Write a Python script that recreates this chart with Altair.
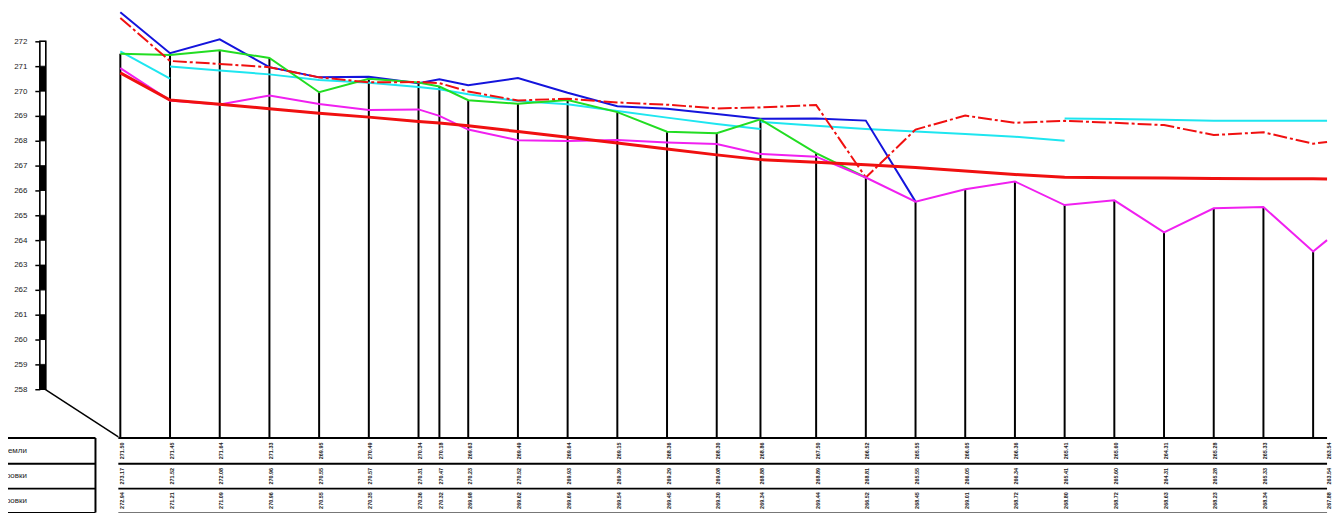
import altair as alt
import pandas as pd

# ---------------- data ----------------
stations = [0, 50, 100, 150, 200, 250, 300, 321, 350, 400, 450, 500, 550, 600, 644,
            700, 750, 800, 850, 900, 950, 1000, 1050, 1100, 1150, 1200]
END = 1214  # end of the profile

ground = [271.50, 271.45, 271.64, 271.33, 269.95, 270.49, 270.34, 270.18, 269.63, 269.49,
          269.64, 269.15, 268.36, 268.30, 268.86, 267.50, 266.52, 265.55, 266.05, 266.36,
          265.41, 265.60, 264.31, 265.28, 265.33, 263.54]
left_edge = [273.17, 271.52, 272.08, 270.96, 270.55, 270.57, 270.31, 270.47, 270.23, 270.52,
             269.93, 269.39, 269.29, 269.08, 268.88, 268.89, 268.81, 265.55, 266.05, 266.34,
             265.41, 265.60, 264.31, 265.28, 265.33, 263.54]
right_edge = [272.94, 271.21, 271.09, 270.96, 270.55, 270.35, 270.36, 270.32, 269.98, 269.62,
              269.69, 269.54, 269.45, 269.30, 269.34, 269.44, 266.52, 268.45, 269.01, 268.72,
              268.80, 268.72, 268.63, 268.23, 268.34, 267.88]
right_edge_end = 267.95

bottom_line = [270.92, 269.62, 269.46, 269.82, 269.48, 269.24, 269.26, 269.00, 268.45, 268.02,
               267.99, 268.03, 267.93, 267.87, 267.47, 267.36, 266.52, 265.55, 266.05, 266.36,
               265.41, 265.60, 264.31, 265.28, 265.33, 263.54]
bottom_line_end = 264.00

design = [270.73, 269.64, 269.47, 269.29, 269.11, 268.95, 268.77, 268.71, 268.60, 268.37,
          268.14, 267.91, 267.67, 267.43, 267.24, 267.13, 267.03, 266.92, 266.78, 266.64,
          266.53, 266.51, 266.50, 266.48, 266.47, 266.47]
design_end = 266.46

cyan_seg_c = [[0, 50],
              [50, 100, 150, 200, 250, 300, 321, 350, 400, 450, 500, 550, 600, 644],
              [644, 700, 750, 800, 850, 900, 950],
              [950, 1000, 1050, 1100, 1150, 1200, END]]
cyan_seg_v = [[271.60, 270.50],
              [270.99, 270.83, 270.67, 270.44, 270.33, 270.16, 270.07, 269.87, 269.60, 269.47,
               269.20, 268.93, 268.67, 268.47],
              [268.76, 268.60, 268.47, 268.37, 268.27, 268.16, 268.00],
              [268.89, 268.87, 268.84, 268.80, 268.80, 268.80, 268.80]]

scale_ticks = list(range(258, 273))
row_titles = ["Отметки земли", "Отметки левой бровки", "Отметки правой бровки"]

GREEN_UNTIL = 750
BLUE_UNTIL = 800

FONT = "Liberation Sans, Arial, sans-serif"

# ---------------- tables ----------------
st_df = pd.DataFrame({"c": stations, "g": ground})

green_df = pd.DataFrame({"c": stations, "v": ground})
green_df = green_df[green_df.c <= GREEN_UNTIL]
blue_df = pd.DataFrame({"c": stations, "v": left_edge})
blue_df = blue_df[blue_df.c <= BLUE_UNTIL]
red_dash_df = pd.DataFrame({"c": stations + [END], "v": right_edge + [right_edge_end]})
mag_df = pd.DataFrame({"c": stations + [END], "v": bottom_line + [bottom_line_end]})
design_df = pd.DataFrame({"c": stations + [END], "v": design + [design_end]})

cy_rows = []
for i, (cs, vs) in enumerate(zip(cyan_seg_c, cyan_seg_v)):
    for c, v in zip(cs, vs):
        cy_rows.append({"c": c, "v": v, "seg": i})
cyan_df = pd.DataFrame(cy_rows)

label_c = stations[:-1] + [END]
lab_dfs = [pd.DataFrame({"c": label_c, "t": [f"{v:.2f}" for v in vals]})
           for vals in (ground, left_edge, right_edge)]

bar_df = pd.DataFrame({"lo": scale_ticks[:-1], "hi": scale_ticks[1:],
                       "fill": ["black" if (272 - h) % 2 == 1 else "white" for h in scale_ticks[1:]]})
one = pd.DataFrame({"a": [0]})

# ---------------- scales ----------------
XS = alt.Scale(domain=[-113, 1222], nice=False, zero=False)
YS = alt.Scale(domain=[253, 273.28], nice=False, zero=False)
YAX = alt.Axis(values=scale_ticks, offset=-32, tickSize=5, tickWidth=1.5, tickColor="black",
               domain=False, grid=False, labelPadding=8, labelFontSize=8, labelFont=FONT,
               labelColor="#222", title=None, format="d", labelOverlap=False, labelFlush=False)


def X(f):
    return alt.X(f, type="quantitative", scale=XS, axis=None)


def Y(f):
    return alt.Y(f, type="quantitative", scale=YS, axis=YAX)


layers = []

# scale bar
layers.append(alt.Chart(bar_df).mark_rect(stroke="black", strokeWidth=0.8).encode(
    x=alt.value(32), x2=alt.value(38), y=Y("lo"), y2="hi",
    fill=alt.Fill("fill:N", scale=None)))
layers.append(alt.Chart(one).mark_rect(fill=None, stroke="black", strokeWidth=1.5).encode(
    x=alt.value(32), x2=alt.value(38), y=alt.Y(datum=258, scale=YS, axis=YAX), y2=alt.Y2(datum=272)))
# diagonal to the table corner
layers.append(alt.Chart(one).mark_rule(color="black", strokeWidth=1.5).encode(
    x=alt.value(37), x2=alt.value(111), y=alt.Y(datum=258, scale=YS, axis=YAX), y2=alt.value(430)))

# station verticals
layers.append(alt.Chart(st_df).mark_rule(color="black", strokeWidth=2).encode(
    x=X("c"), y=Y("g"), y2=alt.value(431)))

# profile lines
layers.append(alt.Chart(cyan_df).mark_line(color="#1ee6f0", strokeWidth=2).encode(
    x=X("c"), y=Y("v"), detail="seg:N"))
layers.append(alt.Chart(blue_df).mark_line(color="#1414dc", strokeWidth=2).encode(
    x=X("c"), y=Y("v")))
layers.append(alt.Chart(green_df).mark_line(color="#22dd22", strokeWidth=2).encode(
    x=X("c"), y=Y("v")))
layers.append(alt.Chart(red_dash_df).mark_line(color="#f01010", strokeWidth=2,
                                               strokeDash=[14, 3, 3, 3]).encode(
    x=X("c"), y=Y("v")))
layers.append(alt.Chart(mag_df).mark_line(color="#f020f0", strokeWidth=2).encode(
    x=X("c"), y=Y("v")))
layers.append(alt.Chart(design_df).mark_line(color="#f01010", strokeWidth=3).encode(
    x=X("c"), y=Y("v")))

# data table
for yy, w, col in [(431, 2, "black"), (457, 2, "black"), (482, 2, "black"), (506, 1.2, "#777")]:
    layers.append(alt.Chart(one).mark_rule(color=col, strokeWidth=w).encode(
        x=alt.X(datum=-2, scale=XS, axis=None), x2=alt.X2(datum=END), y=alt.value(yy)))
    layers.append(alt.Chart(one).mark_rule(color="black", strokeWidth=w).encode(
        x=alt.value(-2), x2=alt.value(88), y=alt.value(yy)))
layers.append(alt.Chart(one).mark_rule(color="black", strokeWidth=2).encode(
    x=alt.value(88), y=alt.value(431), y2=alt.value(506)))

for df, yy in zip(lab_dfs, [444, 469.5, 494]):
    layers.append(alt.Chart(df).mark_text(angle=270, fontSize=5.5, font=FONT, color="#222",
                                          fontWeight="bold",
                                          align="center", baseline="middle", dy=1.5).encode(
        x=X("c"), y=alt.value(yy), text="t:N"))

for t, yy in zip(row_titles, [444, 469.5, 494]):
    layers.append(alt.Chart(pd.DataFrame({"t": [t]})).mark_text(
        fontSize=8, font=FONT, color="#222", align="right", baseline="middle").encode(
        x=alt.value(19), y=alt.value(yy), text="t:N"))

chart = alt.layer(*layers).properties(
    width=1335, height=507,
    autosize=alt.AutoSizeParams(type="none"),
    padding=0,
    background="white",
).configure_view(stroke=None)

chart.save("out.html", embed_options={"renderer": "svg", "actions": False})
